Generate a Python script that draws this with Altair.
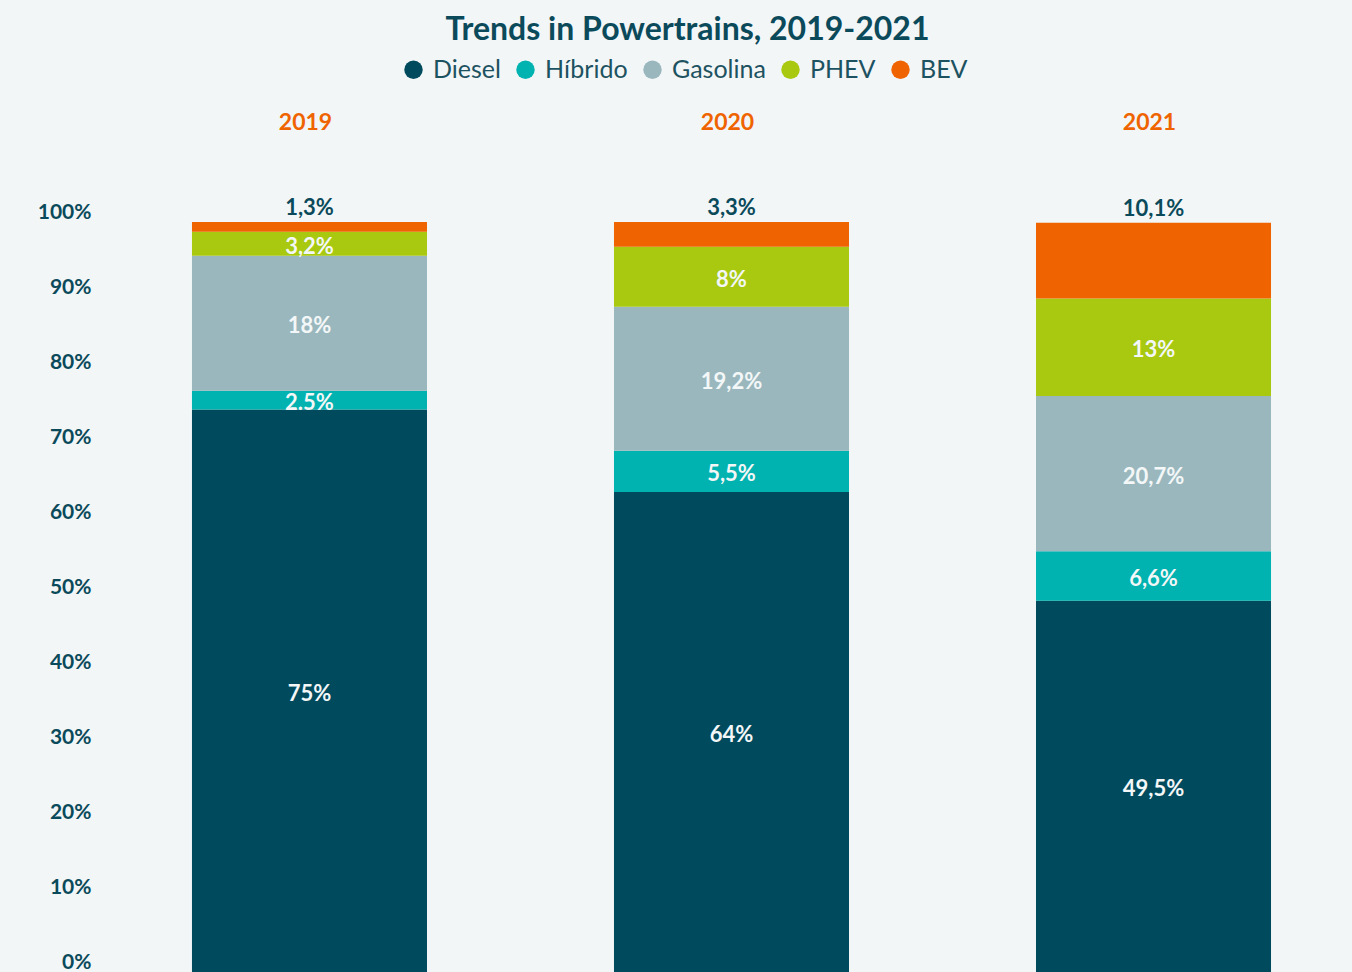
import altair as alt
import pandas as pd

years = ["2019", "2020", "2021"]
powertrains = ["Diesel", "Híbrido", "Gasolina", "PHEV", "BEV"]
colors = ["#004a5e", "#00b2b0", "#9ab7be", "#a8c90f", "#ef6400"]

values_2019 = [75, 2.5, 18, 3.2, 1.3]
values_2020 = [64, 5.5, 19.2, 8, 3.3]
values_2021 = [49.5, 6.6, 20.7, 13, 10.1]

labels_2019 = ["75%", "2.5%", "18%", "3,2%", "1,3%"]
labels_2020 = ["64%", "5,5%", "19,2%", "8%", "3,3%"]
labels_2021 = ["49,5%", "6,6%", "20,7%", "13%", "10,1%"]

y_ticks = [0, 10, 20, 30, 40, 50, 60, 70, 80, 90, 100]

DARK = "#0b4a5b"
FONT = "Lato"

rows = []
for yr, vals, labs in zip(years, [values_2019, values_2020, values_2021],
                          [labels_2019, labels_2020, labels_2021]):
    for i, (p, v, l) in enumerate(zip(powertrains, vals, labs)):
        rows.append({"year": yr, "powertrain": p, "value": v, "label": l, "order": i})
df = pd.DataFrame(rows)

base = alt.Chart(df).transform_stack(
    stack="value", groupby=["year"], as_=["y0", "y1"],
    sort=[alt.SortField("order", order="ascending")]
).transform_calculate(mid="(datum.y0 + datum.y1) / 2")

x_enc = alt.X(
    "year:N",
    sort=years,
    scale=alt.Scale(paddingInner=0.4431, paddingOuter=0.199, align=0.5476),
    axis=alt.Axis(orient="top", title=None, labelAngle=0, domain=False, ticks=False,
                  labelPadding=88, labelFontSize=23, labelFont=FONT, labelFontWeight="bold",
                  labelColor="#ef6400", labelOffset=-4),
)
y_scale = alt.Scale(domain=[0, 100], nice=False, zero=True)

bars = base.mark_bar().encode(
    x=x_enc,
    y=alt.Y("y0:Q", scale=y_scale,
            axis=alt.Axis(title=None, values=y_ticks, labelExpr="datum.value + '%'",
                          grid=False, domain=False, ticks=False, labelPadding=9,
                          labelOffset=-10, labelFontSize=21, labelFont=FONT,
                          labelFontWeight="bold", labelColor=DARK)),
    y2="y1:Q",
    color=alt.Color(
        "powertrain:N",
        scale=alt.Scale(domain=powertrains, range=colors),
        legend=alt.Legend(orient="none", legendX=301, legendY=-165, direction="horizontal",
                          title=None, symbolType="circle", symbolSize=340,
                          symbolStrokeWidth=0, labelFontSize=25, labelFont=FONT,
                          labelColor="#1d5261", columnPadding=12, labelOffset=7),
    ),
)

inner = base.transform_filter("datum.powertrain != 'BEV'").mark_text(
    font=FONT, fontSize=22, fontWeight="bold", color="#f3f7f7", baseline="middle", dy=3
).encode(x=alt.X("year:N", sort=years), y=alt.Y("mid:Q"), text="label:N")

top = base.transform_filter("datum.powertrain == 'BEV'").mark_text(
    font=FONT, fontSize=22, fontWeight="bold", color=DARK, baseline="middle", dy=-14
).encode(x=alt.X("year:N", sort=years), y=alt.Y("y1:Q"), text="label:N")

chart = alt.layer(bars, inner, top).properties(
    width=1247,
    height=750,
    autosize=alt.AutoSizeParams(type="none"),
    padding={"left": 100, "top": 222, "right": 5, "bottom": 0},
    background="#f2f6f7",
    title=alt.TitleParams("Trends in Powertrains, 2019-2021", fontSize=32, font=FONT,
                          fontWeight="bold", color=DARK, anchor="middle", offset=10, dx=-36),
).configure_view(stroke=None)

chart.save("out.html", embed_options={"renderer": "svg", "actions": False})
